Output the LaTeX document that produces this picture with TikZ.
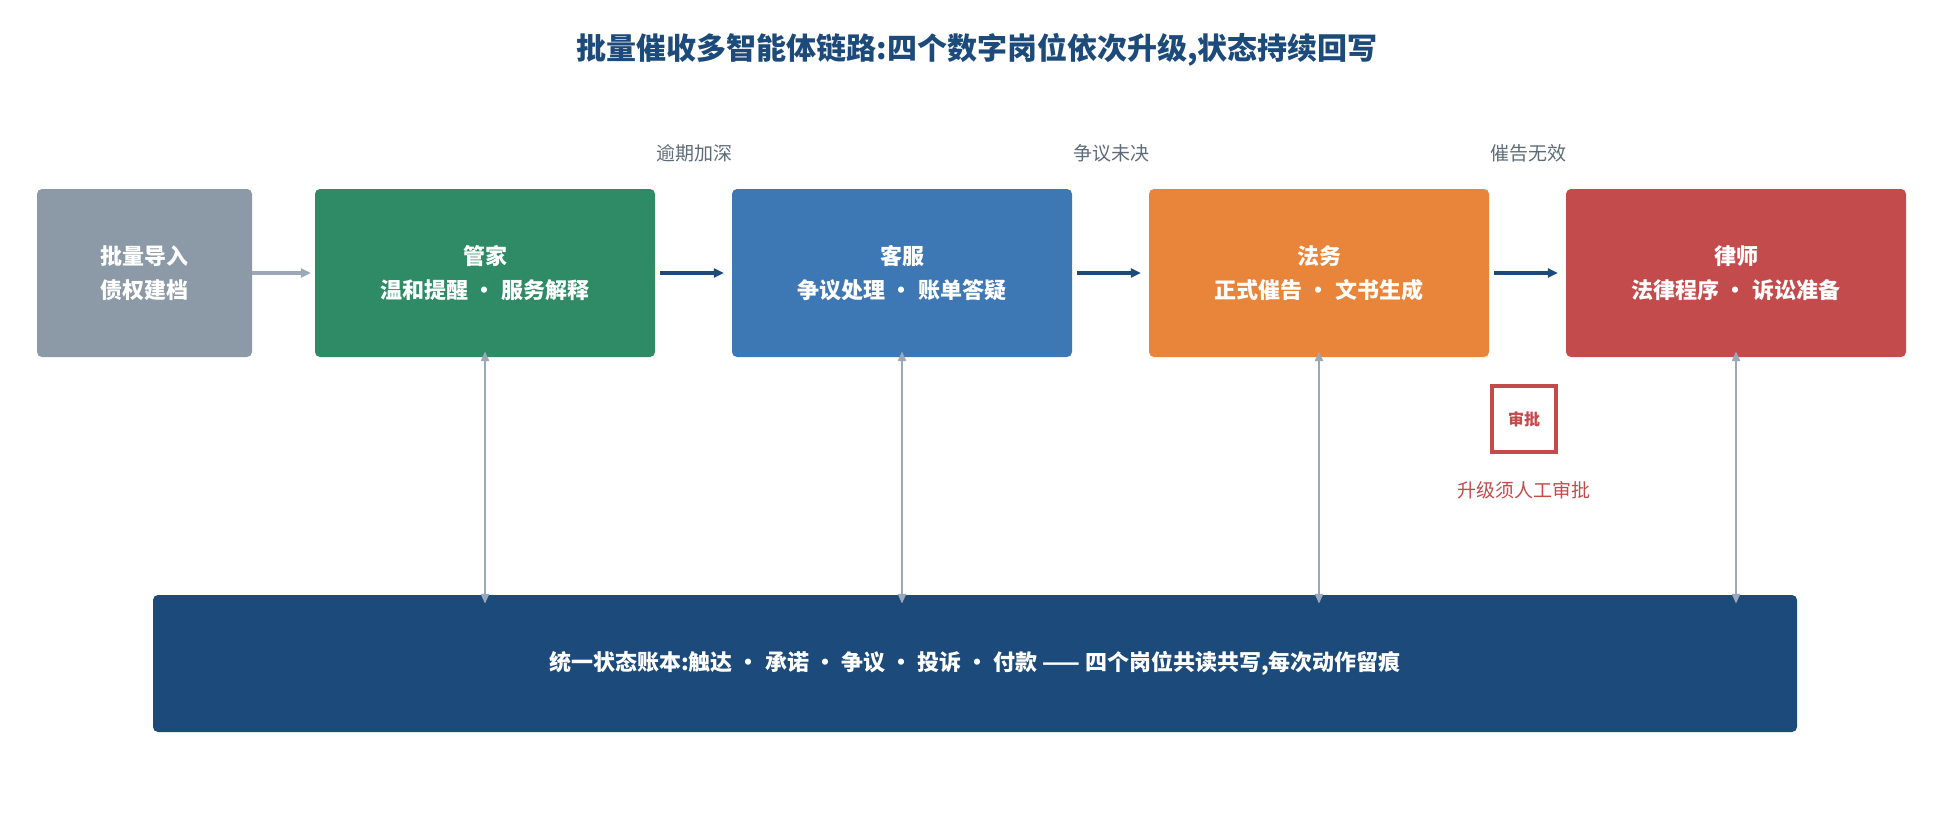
\documentclass[tikz,border=0pt]{standalone}
\usepackage{fontspec}
\setmainfont{Noto Sans CJK SC}
\usetikzlibrary{arrows.meta}
\definecolor{navy}{HTML}{1C4A7A}
\definecolor{cgray}{HTML}{8C99A6}
\definecolor{cgreen}{HTML}{2E8B66}
\definecolor{cblue}{HTML}{3D78B5}
\definecolor{corange}{HTML}{E8853A}
\definecolor{cred}{HTML}{C44B4C}
\definecolor{lgray}{HTML}{9AA8BA}
\definecolor{tgray}{HTML}{5E6B78}
\begin{document}
\begin{tikzpicture}[x=1pt,y=-1pt,
 box/.style={rounded corners=5pt,minimum width=340pt,minimum height=168pt,inner sep=0pt,text=white,font=\bfseries\fontsize{22}{34}\selectfont,align=center},
 flow/.style={-{Triangle[length=10pt,width=9pt]},line width=3.5pt,navy},
 link/.style={{Triangle[length=10pt,width=8pt]}-{Triangle[length=10pt,width=8pt]},line width=2.5pt,lgray},
 lab/.style={text=tgray,font=\fontsize{19}{22}\selectfont}]
\path[use as bounding box] (0,0) rectangle (1954,832);
\node[font=\bfseries\fontsize{30}{36}\selectfont,text=navy] (title) at (977,50) {批量催收多智能体链路:四个数字岗位依次升级,状态持续回写};
\node[box,fill=cgray,minimum width=215pt] (imp) at (144.5,273) {批量导入\\债权建档};
\node[box,fill=cgreen] (g) at (485,273) {管家\\温和提醒 · 服务解释};
\node[box,fill=cblue] (k) at (902,273) {客服\\争议处理 · 账单答疑};
\node[box,fill=corange] (f) at (1319,273) {法务\\正式催告 · 文书生成};
\node[box,fill=cred] (l) at (1736,273) {律师\\法律程序 · 诉讼准备};
\node[rounded corners=5pt,fill=navy,minimum width=1644pt,minimum height=137pt,text=white,font=\bfseries\fontsize{22}{26}\selectfont] (led) at (975,663.5) {统一状态账本:触达 · 承诺 · 争议 · 投诉 · 付款 —— 四个岗位共读共写,每次动作留痕};
\draw[-{Triangle[length=10pt,width=9pt]},line width=3.5pt,lgray] (imp.east) -- ([xshift=-4pt]g.west);
\draw[flow] ([xshift=5pt]g.east) -- ([xshift=-8pt]k.west);
\draw[flow] ([xshift=5pt]k.east) -- ([xshift=-8pt]f.west);
\draw[flow] ([xshift=5pt]f.east) -- ([xshift=-8pt]l.west);
\node[lab] (a1) at (694,153) {逾期加深};
\node[lab] (a2) at (1111,153) {争议未决};
\node[lab] (a3) at (1528,153) {催告无效};
\foreach \n in {g,k,f,l}{\draw[link] ([yshift=6pt]\n.south) -- ([yshift=-9pt]\n.south |- led.north);}
\node[draw=cred,line width=4pt,minimum width=64pt,minimum height=66pt,inner sep=0pt,text=cred,font=\bfseries\fontsize{16}{18}\selectfont] (ap) at (1524,419) {审批};
\node[text=cred,font=\fontsize{19}{22}\selectfont] (apl) at (1524,490) {升级须人工审批};
\end{tikzpicture}
\end{document}
